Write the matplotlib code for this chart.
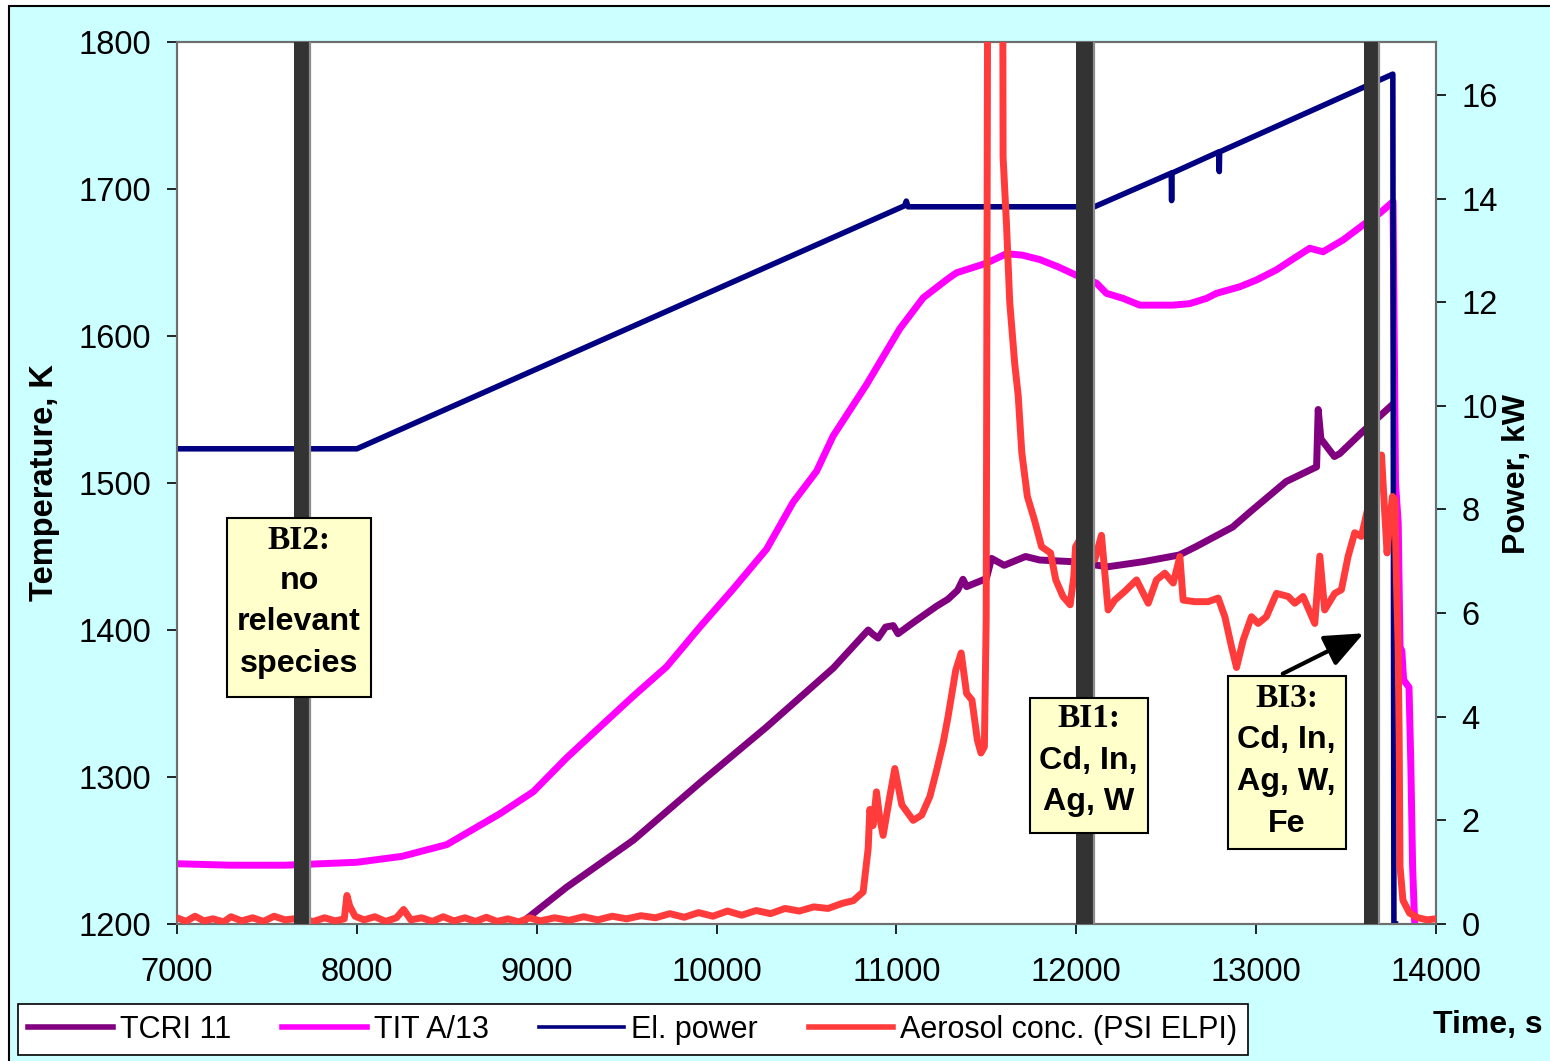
import matplotlib
matplotlib.use("Agg")
import matplotlib.pyplot as plt
from matplotlib.lines import Line2D
from matplotlib.patches import Rectangle

# time [s], value pairs
TCRI_11 = [
    (8907, 1200), (9166, 1225), (9537, 1257), (9907, 1296), (10278, 1334),
    (10648, 1374), (10843, 1400), (10870, 1397), (10898, 1394.5), (10940, 1402),
    (10982, 1403), (11009, 1397.5), (11093, 1405), (11221, 1416), (11287, 1421),
    (11340, 1427), (11370, 1434.5), (11390, 1429.5), (11480, 1434), (11500, 1435),
    (11529, 1448.7), (11599, 1444), (11718, 1450), (11797, 1447.6), (11976, 1446.5),
    (12175, 1443), (12373, 1446.5), (12572, 1451), (12670, 1457), (12869, 1470),
    (12968, 1480.5), (13167, 1501), (13336, 1511), (13345, 1550), (13360, 1530),
    (13435, 1518), (13465, 1520), (13584, 1534), (13764, 1554),
]

TIT_A13 = [
    (7000, 1241), (7300, 1240), (7600, 1240), (7800, 1241), (8000, 1242),
    (8250, 1246), (8500, 1254), (8795, 1275), (8981, 1290), (9166, 1313),
    (9351, 1334), (9537, 1355), (9722, 1375), (9907, 1402), (10093, 1428),
    (10278, 1455), (10426, 1487), (10556, 1508), (10648, 1532), (10834, 1567),
    (11019, 1605), (11149, 1626), (11287, 1639), (11334, 1643), (11500, 1649.5),
    (11612, 1656), (11700, 1655), (11797, 1652), (11900, 1647), (11997, 1641.5),
    (12112, 1636), (12168, 1629), (12260, 1625.6), (12353, 1621), (12450, 1621),
    (12537, 1621), (12630, 1622), (12724, 1625.6), (12779, 1629), (12909, 1633.5),
    (13000, 1638), (13113, 1645), (13200, 1652), (13298, 1659.7), (13372, 1657.3),
    (13483, 1665.3), (13594, 1675.5), (13687, 1683.5), (13761, 1691.4), (13775, 1500),
    (13790, 1473), (13800, 1388), (13810, 1386), (13820, 1366), (13850, 1361),
    (13860, 1309), (13870, 1239), (13880, 1205), (13890, 1180),
]

EL_POWER = [
    (7000, 9.17), (8000, 9.17), (11045, 13.86), (11055, 13.95), (11065, 13.84),
    (12100, 13.84), (12528, 14.49), (12530, 13.96), (12532, 14.49), (12793, 14.9),
    (12795, 14.52), (12797, 14.9), (13760, 16.4), (13766, 0.0), (13775, 0.0),
]

AEROSOL = [
    (7000, 0.12), (7050, 0.05), (7100, 0.15), (7150, 0.06), (7200, 0.10),
    (7260, 0.04), (7300, 0.14), (7360, 0.06), (7420, 0.12), (7480, 0.05),
    (7540, 0.15), (7600, 0.08), (7650, 0.10), (7760, 0.05), (7820, 0.12),
    (7880, 0.06), (7930, 0.10), (7945, 0.55), (7960, 0.35), (7990, 0.15),
    (8040, 0.08), (8100, 0.14), (8160, 0.05), (8220, 0.12), (8260, 0.28),
    (8300, 0.08), (8360, 0.12), (8420, 0.05), (8480, 0.14), (8540, 0.06),
    (8600, 0.12), (8660, 0.05), (8720, 0.13), (8780, 0.05), (8840, 0.10),
    (8900, 0.04), (8960, 0.12), (9020, 0.06), (9100, 0.12), (9180, 0.07),
    (9260, 0.14), (9340, 0.08), (9420, 0.15), (9500, 0.10), (9580, 0.16),
    (9660, 0.12), (9740, 0.20), (9820, 0.13), (9900, 0.22), (9980, 0.15),
    (10060, 0.25), (10140, 0.17), (10220, 0.26), (10300, 0.20), (10380, 0.30),
    (10460, 0.25), (10540, 0.33), (10620, 0.30), (10700, 0.40), (10760, 0.45),
    (10815, 0.62), (10843, 1.46), (10852, 2.21), (10870, 1.9), (10889, 2.55),
    (10905, 2.1), (10926, 1.71), (10960, 2.4), (10991, 3.0), (11030, 2.3),
    (11093, 2.0), (11140, 2.1), (11186, 2.46), (11223, 2.96), (11260, 3.5),
    (11287, 4.0), (11330, 4.9), (11360, 5.23), (11390, 4.45), (11420, 4.32),
    (11450, 3.55), (11470, 3.30), (11489, 3.42), (11499, 5.87), (11515, 30.0),
    (11585, 30.0), (11593, 14.8), (11612, 13.5), (11630, 12.0), (11658, 10.8),
    (11677, 10.2), (11697, 9.1), (11728, 8.25), (11767, 7.8), (11807, 7.28),
    (11857, 7.16), (11886, 6.64), (11926, 6.32), (11966, 6.16), (11986, 6.70),
    (11996, 7.28), (12050, 7.6), (12103, 7.03), (12140, 7.5), (12177, 6.06),
    (12214, 6.25), (12270, 6.42), (12335, 6.64), (12400, 6.19), (12446, 6.64),
    (12492, 6.77), (12539, 6.58), (12576, 7.09), (12594, 6.25), (12659, 6.22),
    (12733, 6.22), (12789, 6.29), (12826, 5.93), (12863, 5.35), (12891, 4.95),
    (12928, 5.48), (12974, 5.93), (13011, 5.80), (13057, 5.93), (13113, 6.38),
    (13178, 6.32), (13215, 6.19), (13261, 6.32), (13326, 5.80), (13354, 7.1),
    (13381, 6.06), (13437, 6.38), (13474, 6.45), (13511, 7.09), (13548, 7.55),
    (13585, 7.48), (13640, 8.3), (13697, 9.05), (13715, 7.93), (13728, 7.16),
    (13743, 7.80), (13758, 8.25), (13771, 8.19), (13780, 6.64), (13789, 5.42),
    (13795, 3.68), (13800, 1.11), (13816, 0.46), (13853, 0.21), (13900, 0.12),
    (13950, 0.08), (14000, 0.10),
]

# blocked intervals (start, end) in s
BI_SPANS = [(7648, 7742), (11998, 12097), (13598, 13681)]

BG = "#CCFFFF"
FONT = "Liberation Sans"
SERIF = "Liberation Serif"
FS = 23.5


def unzip(pairs):
    return [p[0] for p in pairs], [p[1] for p in pairs]


def main():
    plt.rcParams["font.family"] = [FONT, "DejaVu Sans"]

    fig = plt.figure(figsize=(15.5, 10.61), dpi=100, facecolor="white")
    fig.patches.append(Rectangle((9 / 1550, -0.01), 1.1, (1061 - 6) / 1061 + 0.01,
                                 transform=fig.transFigure, facecolor=BG,
                                 edgecolor="black", linewidth=1.5, zorder=-10))

    ax = fig.add_axes([177 / 1550, 1 - 924 / 1061, (1436 - 177) / 1550, (924 - 42) / 1061])
    ax.set_facecolor("white")
    ax2 = ax.twinx()

    t, v = unzip(TCRI_11)
    ax.plot(t, v, color="#800080", lw=5.0, solid_capstyle="butt", zorder=2)
    t, v = unzip(TIT_A13)
    ax.plot(t, v, color="#FF00FF", lw=5.0, solid_capstyle="butt", zorder=3)

    t, v = unzip(EL_POWER)
    ax2.plot(t, v, color="#000080", lw=4.0, zorder=2)
    t, v = unzip(AEROSOL)
    ax2.plot(t, v, color="#FF3B3B", lw=5.0, zorder=3)

    for a, b in BI_SPANS:
        ax2.axvspan(a, b, color="#333333", lw=0, zorder=5)
        ax2.axvline(b, color="#8C8C8C", lw=1.6, zorder=5)

    ax.set_xlim(7000, 14000)
    ax.set_ylim(1200, 1800)
    ax2.set_ylim(0, 17.02)
    ax.set_xticks(range(7000, 14001, 1000))
    ax.set_yticks(range(1200, 1801, 100))
    ax2.set_yticks(range(0, 17, 2))

    for a in (ax, ax2):
        for s in a.spines.values():
            s.set_color("#6E6E6E")
            s.set_linewidth(1.5)
    ax.tick_params(axis="x", direction="out", length=7.5, width=1.2, labelsize=FS, pad=16)
    ax.tick_params(axis="y", direction="out", length=7.5, width=1.2, labelsize=FS, pad=11)
    ax2.tick_params(axis="y", direction="out", length=7.5, width=1.2, labelsize=FS, pad=11)

    fig.text(45 / 1550, 1 - 483 / 1061, "Temperature, K", rotation=90, fontsize=FS,
             fontweight="bold", ha="center", va="center")
    fig.text(1517 / 1550, 1 - 474 / 1061, "Power, kW", rotation=90, fontsize=23,
             fontweight="bold", ha="center", va="center")
    fig.text(1488 / 1550, 1 - 1025 / 1061, "Time, s", fontsize=23,
             fontweight="bold", ha="center", va="center")

    # annotation boxes: (x0, x1, y0, y1) in data units, then text lines
    boxes = [
        ((7278, 8078, 4.38, 7.84), ["BI2:", "no", "relevant", "species"], [7.41, 6.62, 5.83, 5.02]),
        ((11741, 12397, 1.76, 4.36), ["BI1:", "Cd, In,", "Ag, W"], [3.96, 3.15, 2.36]),
        ((12842, 13498, 1.45, 4.79), ["BI3:", "Cd, In,", "Ag, W,", "Fe"], [4.36, 3.55, 2.74, 1.93]),
    ]
    for (x0, x1, y0, y1), lines, ys in boxes:
        ax2.add_patch(Rectangle((x0, y0), x1 - x0, y1 - y0, facecolor="#FFFFCC",
                                edgecolor="black", lw=1.5, zorder=6))
        xc = (x0 + x1) / 2
        for i, (txt, y) in enumerate(zip(lines, ys)):
            if i == 0:
                ax2.text(xc, y, txt, family=[SERIF, "DejaVu Serif"], fontsize=24,
                         fontweight="bold", ha="center", va="center", zorder=7)
            else:
                ax2.text(xc, y, txt, family=[FONT, "DejaVu Sans"], fontsize=23.2,
                         fontweight="bold", ha="center", va="center", zorder=7)

    ax2.annotate("", xy=(13598, 5.61), xytext=(13148, 4.83),
                 arrowprops=dict(arrowstyle="-|>,head_length=0.95,head_width=0.4",
                                 mutation_scale=25, color="black", lw=3,
                                 shrinkA=0, shrinkB=0),
                 zorder=8)

    handles = [
        Line2D([], [], color="#800080", lw=4.0),
        Line2D([], [], color="#FF00FF", lw=4.0),
        Line2D([], [], color="#000080", lw=2.6),
        Line2D([], [], color="#FF3B3B", lw=4.0),
    ]
    labels = ["TCRI 11", "TIT A/13", "El. power", "Aerosol conc. (PSI ELPI)"]
    leg = fig.legend(handles, labels, loc="lower left", mode="expand",
                     bbox_to_anchor=(18 / 1550, 6 / 1061, 1230 / 1550, 52 / 1061), ncol=4,
                     fontsize=22, handlelength=2.78, handletextpad=0.23,
                     columnspacing=1.0, borderpad=0.34, borderaxespad=0,
                     frameon=True, fancybox=False, shadow=False, framealpha=1)
    leg.get_frame().set_edgecolor("black")
    leg.get_frame().set_linewidth(1.2)
    leg.get_frame().set_facecolor("white")

    fig.savefig("out.png", dpi=100, facecolor=fig.get_facecolor())
    plt.close(fig)


if __name__ == "__main__":
    main()
